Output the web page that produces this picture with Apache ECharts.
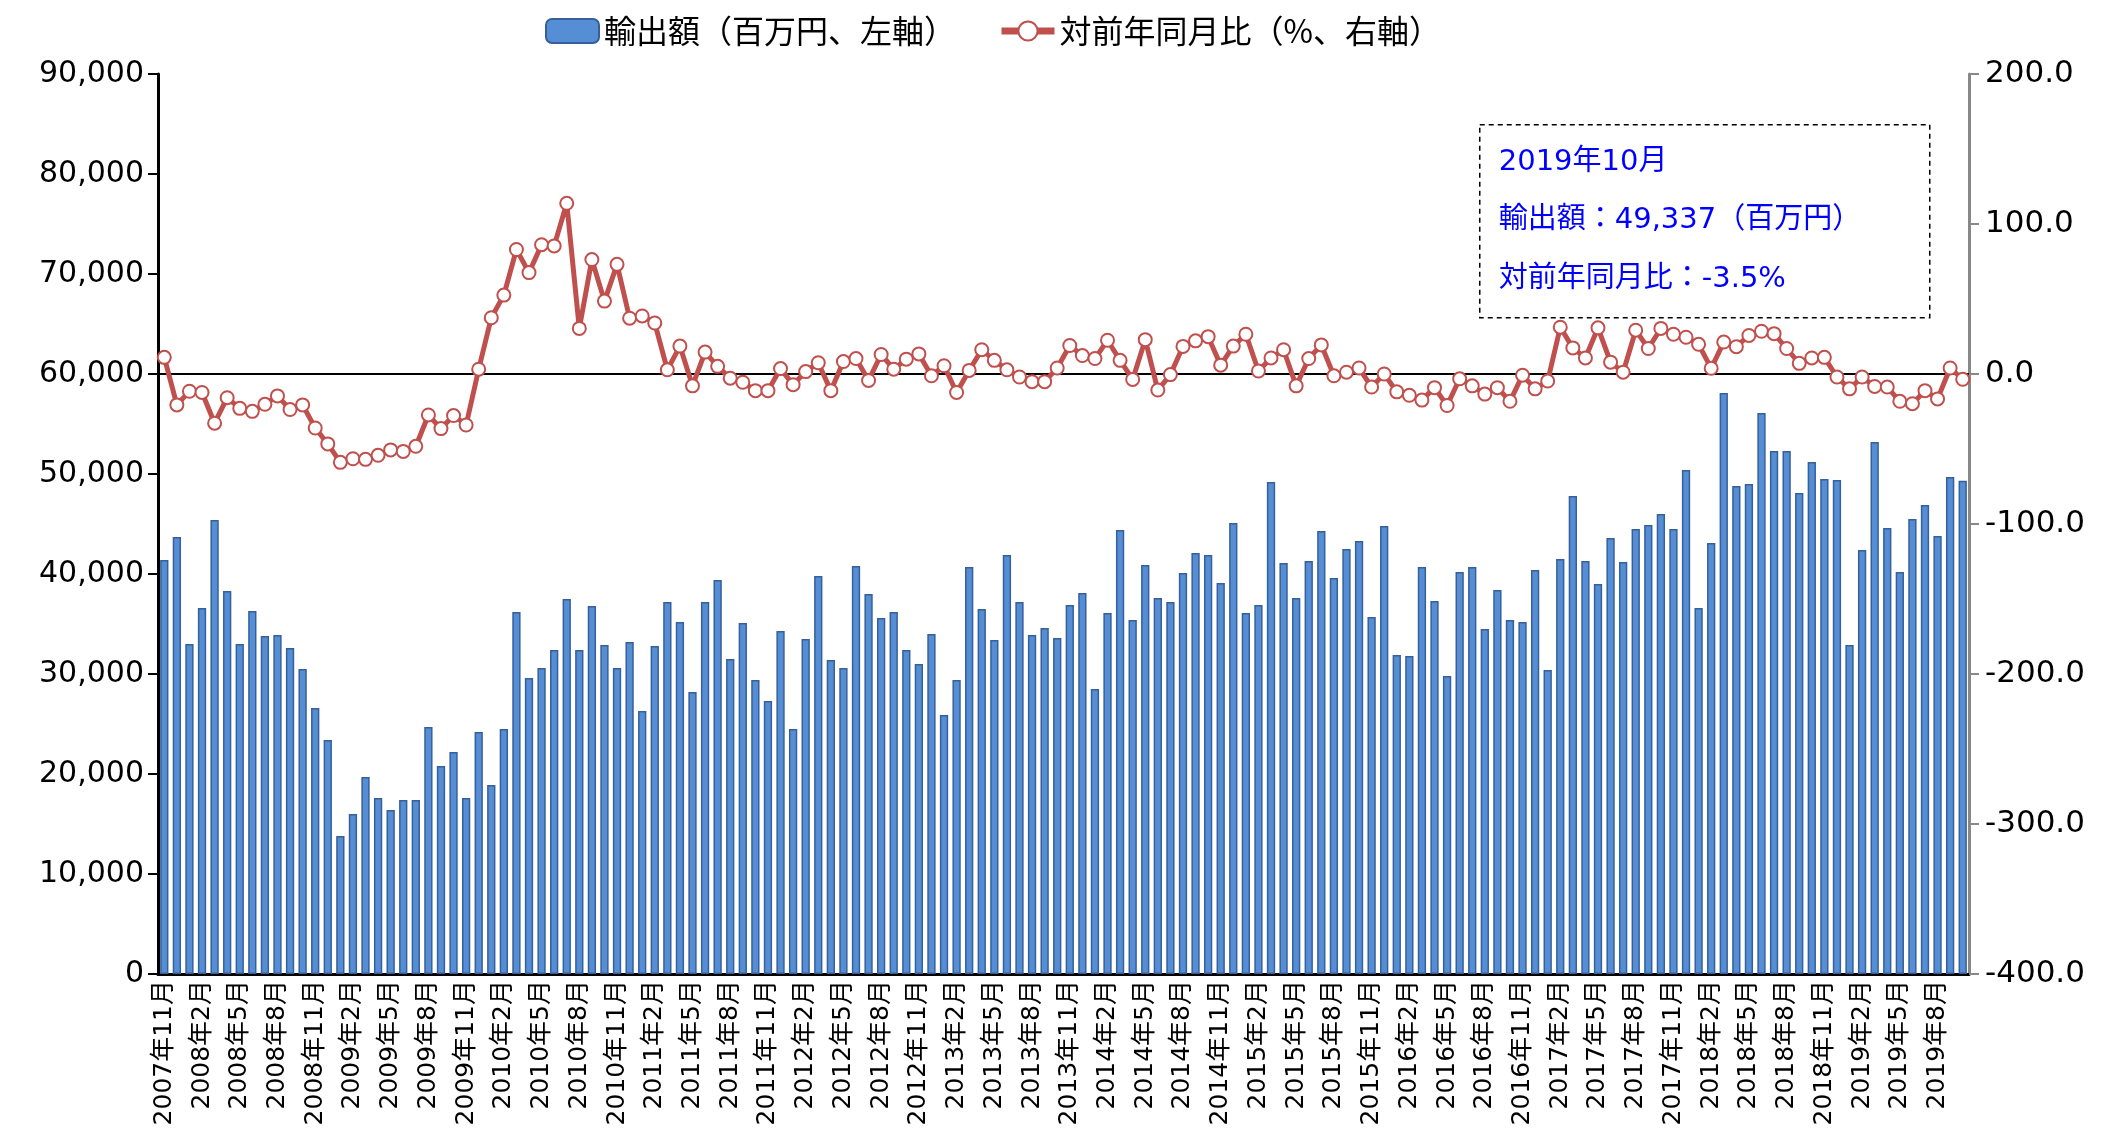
<!DOCTYPE html>
<html><head><meta charset="utf-8">
<script src="https://cdn.jsdelivr.net/npm/echarts@6/dist/echarts.min.js"></script>
<style>html,body{margin:0;padding:0;background:#fff}#c{width:2112px;height:1130px}</style>
</head><body><div id="c"></div>
<script>
const categories = [
 "2007年11月","2007年12月",
 "2008年1月","2008年2月","2008年3月","2008年4月","2008年5月","2008年6月","2008年7月","2008年8月","2008年9月","2008年10月","2008年11月","2008年12月",
 "2009年1月","2009年2月","2009年3月","2009年4月","2009年5月","2009年6月","2009年7月","2009年8月","2009年9月","2009年10月","2009年11月","2009年12月",
 "2010年1月","2010年2月","2010年3月","2010年4月","2010年5月","2010年6月","2010年7月","2010年8月","2010年9月","2010年10月","2010年11月","2010年12月",
 "2011年1月","2011年2月","2011年3月","2011年4月","2011年5月","2011年6月","2011年7月","2011年8月","2011年9月","2011年10月","2011年11月","2011年12月",
 "2012年1月","2012年2月","2012年3月","2012年4月","2012年5月","2012年6月","2012年7月","2012年8月","2012年9月","2012年10月","2012年11月","2012年12月",
 "2013年1月","2013年2月","2013年3月","2013年4月","2013年5月","2013年6月","2013年7月","2013年8月","2013年9月","2013年10月","2013年11月","2013年12月",
 "2014年1月","2014年2月","2014年3月","2014年4月","2014年5月","2014年6月","2014年7月","2014年8月","2014年9月","2014年10月","2014年11月","2014年12月",
 "2015年1月","2015年2月","2015年3月","2015年4月","2015年5月","2015年6月","2015年7月","2015年8月","2015年9月","2015年10月","2015年11月","2015年12月",
 "2016年1月","2016年2月","2016年3月","2016年4月","2016年5月","2016年6月","2016年7月","2016年8月","2016年9月","2016年10月","2016年11月","2016年12月",
 "2017年1月","2017年2月","2017年3月","2017年4月","2017年5月","2017年6月","2017年7月","2017年8月","2017年9月","2017年10月","2017年11月","2017年12月",
 "2018年1月","2018年2月","2018年3月","2018年4月","2018年5月","2018年6月","2018年7月","2018年8月","2018年9月","2018年10月","2018年11月","2018年12月",
 "2019年1月","2019年2月","2019年3月","2019年4月","2019年5月","2019年6月","2019年7月","2019年8月","2019年9月","2019年10月"
];

// 輸出額（百万円）
const exportsValue = [
 41400, 43700, 33000, 36600, 45400, 38300, 33000, 36300, 33800, 33900, 32600, 30500, 26600, 23400, 13800, 16000, 19700, 17600, 16400, 17400,
 17400, 24700, 20800, 22200, 17600, 24200, 18900, 24500, 36200, 29600, 30600, 32400, 37500, 32400, 36800, 32900, 30600, 33200, 26300, 32800, 37200,
 35200, 28200, 37200, 39400, 31500, 35100, 29400, 27300, 34300, 24500, 33500, 39800, 31400, 30600, 40800, 38000, 35600, 36200, 32400, 31000, 34000,
 25900, 29400, 40700, 36500, 33400, 41900, 37200, 33900, 34600, 33600, 36900, 38100, 28500, 36100, 44400, 35400, 40900, 37600, 37200, 40100,
 42100, 41900, 39100, 45100, 36100, 36900, 49200, 41100, 37600, 41300, 44300, 39600, 42500, 43300, 35700, 44800, 31900, 31800, 40700, 37300, 29800,
 40200, 40700, 34500, 38400, 35400, 35200, 40400, 30400, 41500, 47800, 41300, 39000, 43600, 41200, 44500, 44900, 46000, 44500, 50400, 36600, 43100,
 58100, 48800, 49000, 56100, 52300, 52300, 48100, 51200, 49500, 49400, 32900, 42400, 53200, 44600, 40200, 45500, 46900, 43800, 49700, 49337
];

// 対前年同月比（%）
const yoyValue = [
 11.1, -20.6, -11.5, -12.3, -32.8, -15.8, -22.9, -24.9, -20.2, -14.6, -23.7, -20.6, -36.0, -46.6, -58.9, -56.5, -56.9, -54.2, -50.6, -51.6,
 -48.2, -27.3, -36.4, -27.7, -34.0, 3.2, 37.5, 52.6, 83.0, 67.6, 86.2, 85.4, 113.8, 30.4, 76.3, 48.6, 73.1, 37.2, 38.7, 34.0, 2.8,
 18.6, -7.9, 14.6, 5.1, -2.8, -5.5, -11.1, -11.1, 3.6, -7.1, 1.6, 7.5, -11.1, 8.3, 10.3, -4.3, 13.0, 3.2, 9.9, 13.4, -1.2,
 5.5, -12.3, 2.4, 16.2, 9.1, 2.8, -2.0, -5.1, -5.1, 4.0, 19.0, 12.3, 10.3, 22.5, 9.1, -3.6, 22.9, -10.7, -0.4, 18.4,
 22.1, 24.9, 5.9, 18.6, 26.5, 2.0, 10.7, 16.2, -7.9, 10.3, 19.4, -1.2, 1.2, 4.0, -8.7, 0.0, -11.9, -14.2, -17.4, -9.1, -21.0,
 -3.2, -7.9, -13.4, -9.1, -18.2, -0.8, -9.9, -4.7, 31.2, 17.4, 10.7, 30.8, 7.9, 1.2, 29.2, 17.0, 30.4, 26.5, 24.5, 19.8, 3.8,
 21.3, 18.2, 25.7, 28.5, 26.9, 17.0, 7.1, 10.7, 11.1, -2.0, -9.9, -2.0, -8.3, -8.7, -18.2, -19.8, -11.1, -16.6, 4.0, -3.5
];

const leftTicks = {min: 0, max: 90000, interval: 10000};
const rightTicks = {min: -400, max: 200, interval: 100};
const seriesNames = ["輸出額（百万円、左軸）", "対前年同月比（%、右軸）"];

const FONT = "'DejaVu Sans', 'Noto Sans CJK JP', sans-serif";
const last = categories.length - 1;

const chart = echarts.init(document.getElementById('c'), null, {renderer: 'canvas'});
chart.setOption({
  animation: false,
  backgroundColor: '#fff',
  legend: {
    top: 10, left: 540,
    itemWidth: 53, itemHeight: 24, itemGap: 42,
    textStyle: {fontSize: 32, color: '#000', fontFamily: "'Noto Sans CJK JP', sans-serif"},
    lineStyle: {width: 7},
    data: seriesNames
  },
  grid: {left: 158, right: 143, top: 74, bottom: 156},
  xAxis: [{
    type: 'category', data: categories, boundaryGap: true,
    axisLine: {show: true, lineStyle: {color: '#000', width: 3}},
    axisTick: {show: false},
    axisLabel: {rotate: 90, interval: 2, fontSize: 25, color: '#000', fontFamily: FONT, margin: 6}
  }, {
    type: 'category', data: categories, position: 'top', boundaryGap: true,
    axisLine: {show: true, lineStyle: {color: '#000', width: 2}},
    axisTick: {show: false}, axisLabel: {show: false}
  }],
  yAxis: [{
    type: 'value', position: 'left', ...leftTicks,
    axisLine: {show: true, lineStyle: {color: '#000', width: 3}},
    axisTick: {show: true, length: 10, lineStyle: {color: '#000', width: 2}},
    splitLine: {show: false},
    axisLabel: {fontSize: 30, color: '#000', fontFamily: FONT, margin: 14,
      formatter: v => v.toLocaleString('en-US')}
  }, {
    type: 'value', position: 'right', ...rightTicks,
    axisLine: {show: true, lineStyle: {color: '#888', width: 3}},
    axisTick: {show: true, length: 10, lineStyle: {color: '#888', width: 2}},
    splitLine: {show: false},
    axisLabel: {fontSize: 31, color: '#000', fontFamily: FONT, margin: 16,
      formatter: v => v.toFixed(1)}
  }],
  series: [{
    name: seriesNames[0], type: 'bar', yAxisIndex: 0, xAxisIndex: 0,
    data: exportsValue, barCategoryGap: '34%',
    itemStyle: {color: '#558ED5', borderColor: '#37609A', borderWidth: 1.5}
  }, {
    name: seriesNames[1], type: 'line', yAxisIndex: 1, xAxisIndex: 0,
    data: yoyValue, symbol: 'circle', symbolSize: 13, showAllSymbol: true, z: 5,
    lineStyle: {color: '#C0504D', width: 5},
    itemStyle: {color: '#fff', borderColor: '#C0504D', borderWidth: 2},
    markLine: {
      silent: true, symbol: 'none', z: 3,
      label: {show: false},
      lineStyle: {color: '#000', width: 2, type: 'solid'},
      data: [{yAxis: 0}]
    }
  }],
  graphic: [{
    type: 'group', left: 1479, top: 124, z: 10,
    children: [
      {type: 'rect', shape: {x: 0, y: 0, width: 450, height: 193},
       style: {fill: '#fff', stroke: '#000', lineWidth: 1.5, lineDash: [5, 4]}},
      {type: 'text', x: 19, y: 38, style: {text: categories[last], fill: '#0000FF',
        font: "29px " + FONT, verticalAlign: 'middle'}},
      {type: 'text', x: 19, y: 96, style: {text: '輸出額：' + exportsValue[last].toLocaleString('en-US') + '（百万円）',
        fill: '#0000FF', font: "29px " + FONT, verticalAlign: 'middle'}},
      {type: 'text', x: 19, y: 155, style: {text: '対前年同月比：' + yoyValue[last].toFixed(1) + '%',
        fill: '#0000FF', font: "29px " + FONT, verticalAlign: 'middle'}}
    ]
  }]
});
</script></body></html>
